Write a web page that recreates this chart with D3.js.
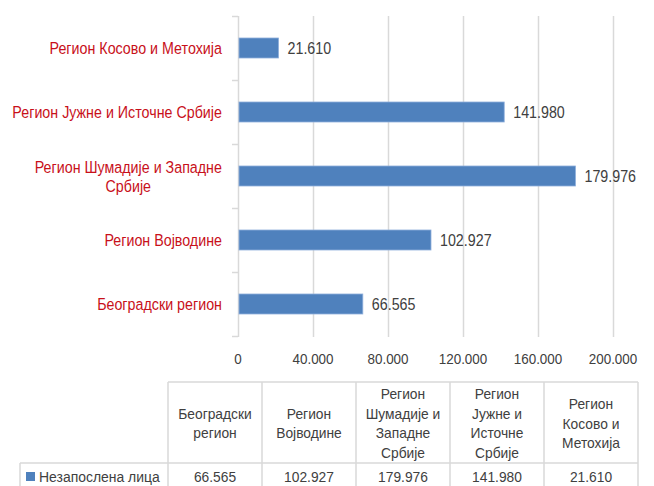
<!DOCTYPE html>
<html>
<head>
<meta charset="utf-8">
<script src="https://cdn.jsdelivr.net/npm/d3@7"></script>
<style>
  body { margin: 0; background: #fff; }
  svg { display: block; font-family: "Liberation Sans", Arial, sans-serif; }
</style>
</head>
<body>
<svg id="chart" width="654" height="486"></svg>
<script>
// categories in table order (chart draws first one at the bottom)
const categories = ["Београдски регион", "Регион Војводине", "Регион Шумадије и Западне Србије",
                    "Регион Јужне и Источне Србије", "Регион Косово и Метохија"];
const values = [66565, 102927, 179976, 141980, 21610];
const seriesName = "Незапослена лица";
const xTicks = [0, 40000, 80000, 120000, 160000, 200000];
// label line breaks
const axisLabelLines = [["Београдски регион"], ["Регион Војводине"], ["Регион Шумадије и Западне", "Србије"],
                        ["Регион Јужне и Источне Србије"], ["Регион Косово и Метохија"]];
const tableHeaderLines = [["Београдски", "регион"], ["Регион", "Војводине"], ["Регион", "Шумадије и", "Западне", "Србије"],
                          ["Регион", "Јужне и", "Источне", "Србије"], ["Регион", "Косово и", "Метохија"]];

const barColor = "#4f81bd";
const labelRed = "#c8101a";
const gridColor = "#d9d9d9";
const textGray = "#404040";

// the original uses a tall, narrow face; squeeze the regular one to match
const sx = 0.84;

const fmt = d3.formatLocale({ decimal: ",", thousands: ".", grouping: [3], currency: ["", ""] }).format(",d");

const svg = d3.select("#chart");
const plot = { left: 238, right: 613, top: 16, bottom: 336 };

const x = d3.scaleLinear().domain([0, 200000]).range([plot.left, plot.right]);
const y = d3.scaleBand().domain(categories.slice().reverse()).range([plot.top, plot.bottom]);

// places a text at (px, py) squeezed horizontally by k
function squeeze(sel, px, py, k) {
    return sel.attr("transform", `translate(${px},${py}) scale(${k},1)`);
}

// vertical gridlines
svg.append("g").selectAll("line")
    .data(xTicks.slice(1))
    .enter().append("line")
    .attr("x1", d => x(d) + 0.5).attr("x2", d => x(d) + 0.5)
    .attr("y1", plot.top).attr("y2", plot.bottom + 1)
    .attr("stroke", gridColor).attr("stroke-width", 1.5);

// left axis line with category ticks
const axisG = svg.append("g");
axisG.append("line")
    .attr("x1", plot.left + 0.5).attr("x2", plot.left + 0.5)
    .attr("y1", plot.top).attr("y2", plot.bottom + 1)
    .attr("stroke", gridColor).attr("stroke-width", 1.5);
const boundaries = y.domain().map(c => y(c)).concat([plot.bottom]);
axisG.selectAll(".tk").data(boundaries).enter().append("line")
    .attr("x1", plot.left - 6).attr("x2", plot.left)
    .attr("y1", d => d + 0.5).attr("y2", d => d + 0.5)
    .attr("stroke", gridColor).attr("stroke-width", 1.5);

// x tick labels
svg.append("g").selectAll("text")
    .data(xTicks).enter().append("text")
    .attr("text-anchor", "middle")
    .attr("font-size", 14).attr("fill", textGray)
    .text(d => fmt(d))
    .each(function (d) { squeeze(d3.select(this), x(d), 364, 0.96); });

// bars
const barH = 20;
const rows = categories.map((c, i) => ({ cat: c, value: values[i], lines: axisLabelLines[i] }));
svg.append("g").selectAll("rect")
    .data(rows).enter().append("rect")
    .attr("x", x(0) + 1)
    .attr("y", d => y(d.cat) + y.bandwidth() / 2 - barH / 2)
    .attr("width", d => x(d.value) - x(0) - 1)
    .attr("height", barH)
    .attr("fill", barColor)
    .attr("stroke", "#8eaedb").attr("stroke-width", 0.8);

// value labels
svg.append("g").selectAll("text")
    .data(rows).enter().append("text")
    .attr("font-size", 17).attr("fill", textGray)
    .text(d => fmt(d.value))
    .each(function (d) { squeeze(d3.select(this), x(d.value) + 9, y(d.cat) + y.bandwidth() / 2 + 6, sx); });

// category labels (block right-aligned, lines centred)
svg.append("g").selectAll("g")
    .data(rows).enter().append("g")
    .each(function (d) {
        const g = d3.select(this);
        const lh = 19;
        const cy = y(d.cat) + y.bandwidth() / 2;
        const texts = d.lines.map(ln => g.append("text")
            .attr("font-size", 17).attr("fill", labelRed)
            .attr("text-anchor", "middle")
            .text(ln));
        const maxW = d3.max(texts, t => t.node().getComputedTextLength()) * sx;
        texts.forEach((t, j) => squeeze(t, 222 - maxW / 2, cy + (j - (d.lines.length - 1) / 2) * lh + 6, sx));
    });

// data table
const col = d3.scaleBand().domain(categories).range([168, 638]);
const tTop = 382, tMid = 463, tBot = 492;
const tbl = svg.append("g");
const tl = (x1, y1, x2, y2) => tbl.append("line")
    .attr("x1", x1).attr("y1", y1).attr("x2", x2).attr("y2", y2)
    .attr("stroke", gridColor).attr("stroke-width", 1.5);
tl(168, tTop, 638, tTop);
tl(20, tMid, 638, tMid);
tl(20, tMid, 20, tBot);
categories.forEach(c => tl(col(c), tTop, col(c), tBot));
tl(638, tTop, 638, tBot);

categories.forEach((c, i) => {
    const lines = tableHeaderLines[i];
    const cx = col(c) + col.bandwidth() / 2;
    const cy = (tTop + tMid) / 2 + 1;
    lines.forEach((ln, j) => {
        squeeze(tbl.append("text")
            .attr("text-anchor", "middle")
            .attr("font-size", 15).attr("fill", textGray)
            .text(ln), cx, cy + (j - (lines.length - 1) / 2) * 19.5 + 5, 0.92);
    });
    squeeze(tbl.append("text")
        .attr("text-anchor", "middle")
        .attr("font-size", 15).attr("fill", textGray)
        .text(fmt(values[i])), cx, 482, 0.92);
});

// legend key + series name
tbl.append("rect").attr("x", 26).attr("y", 472).attr("width", 9).attr("height", 9).attr("fill", barColor);
squeeze(tbl.append("text")
    .attr("font-size", 15).attr("fill", textGray)
    .text(seriesName), 39, 482, 0.93);
</script>
</body>
</html>
